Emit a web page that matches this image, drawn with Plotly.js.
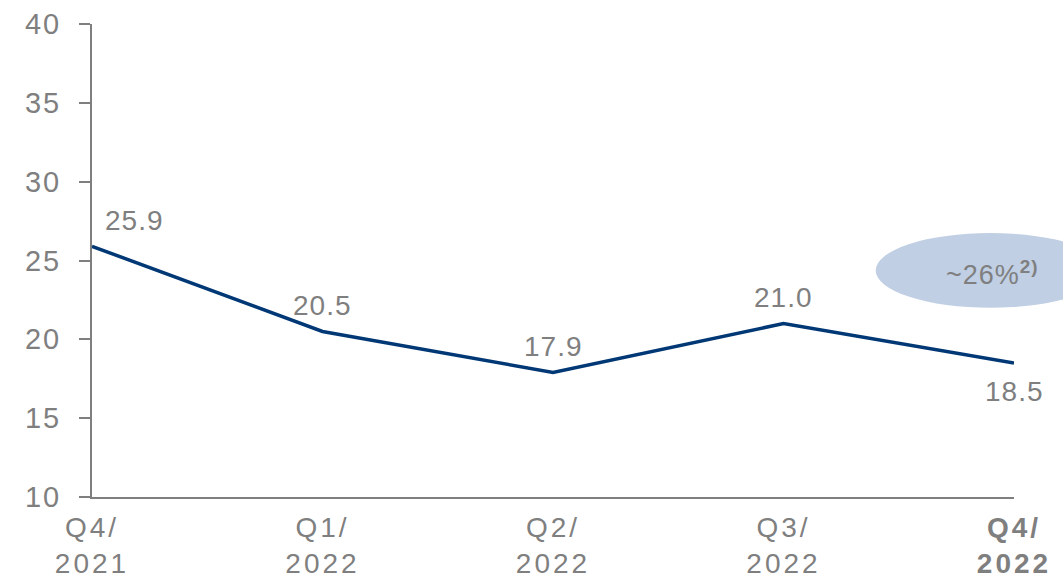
<!DOCTYPE html>
<html>
<head>
<meta charset="utf-8">
<script src="https://cdn.plot.ly/plotly-3.0.1.min.js"></script>
<style>
html,body{margin:0;padding:0;background:#fff;}
#chart{width:1063px;height:579px;}
#chart .xtick text{letter-spacing:3px;}
#chart .ytick text{letter-spacing:2px;}
#chart .annotation text{letter-spacing:1px;}
</style>
</head>
<body>
<div id="chart"></div>
<script>
const categories = ["Q4/<br>2021", "Q1/<br>2022", "Q2/<br>2022", "Q3/<br>2022", "<b>Q4/<br>2022</b>"];
const values = [25.9, 20.5, 17.9, 21.0, 18.5];
const valueLabels = ["25.9", "20.5", "17.9", "21.0", "18.5"];
const yTicks = [10, 15, 20, 25, 30, 35, 40];
const calloutText = "~26%<sup><b>2)</b></sup>";

const grey = "#7f7f7f";
const navy = "#003876";
const fontFam = "Liberation Sans, Arial, sans-serif";
const xIdx = categories.map((_, i) => i);

const labelShifts = [[42, 26], [0, 26], [0, 26], [0, 26], [0, -29]];
const annotations = values.map((v, i) => ({
  x: xIdx[i], y: v, xref: "x", yref: "y",
  text: valueLabels[i], showarrow: false,
  xanchor: "center", yanchor: "middle",
  xshift: labelShifts[i][0], yshift: labelShifts[i][1],
  font: {family: fontFam, size: 28, color: grey}
}));
annotations.push({
  x: 0.977, y: 0.474, xref: "paper", yref: "paper",
  xanchor: "center", yanchor: "middle",
  text: calloutText, showarrow: false,
  font: {family: fontFam, size: 27, color: grey}
});

const trace = {
  x: xIdx, y: values, type: "scatter", mode: "lines",
  line: {color: navy, width: 3.5},
  cliponaxis: false, hoverinfo: "skip"
};

const layout = {
  width: 1063, height: 579,
  margin: {l: 92, r: 49, t: 24, b: 82},
  paper_bgcolor: "#fff", plot_bgcolor: "#fff",
  showlegend: false,
  font: {family: fontFam, color: grey},
  xaxis: {
    range: [0, 4], tickvals: xIdx, ticktext: categories,
    showgrid: false, zeroline: false,
    showline: true, linecolor: grey, linewidth: 2,
    ticks: "", ticklabelstandoff: 4,
    tickfont: {family: fontFam, size: 28, color: grey},
    fixedrange: true
  },
  yaxis: {
    range: [10, 40], tickvals: yTicks,
    showgrid: false, zeroline: false,
    showline: true, linecolor: grey, linewidth: 2,
    ticks: "outside", ticklen: 11, tickwidth: 2, tickcolor: grey,
    ticklabelstandoff: 12,
    tickfont: {family: fontFam, size: 29, color: grey},
    fixedrange: true
  },
  shapes: [{
    type: "circle", xref: "paper", yref: "paper",
    x0: 0.850, x1: 1.099, y0: 0.400, y1: 0.558,
    fillcolor: "#c0cfe4", line: {width: 0}, layer: "below"
  }],
  annotations: annotations
};

Plotly.newPlot("chart", [trace], layout, {staticPlot: true, displayModeBar: false});
</script>
</body>
</html>
